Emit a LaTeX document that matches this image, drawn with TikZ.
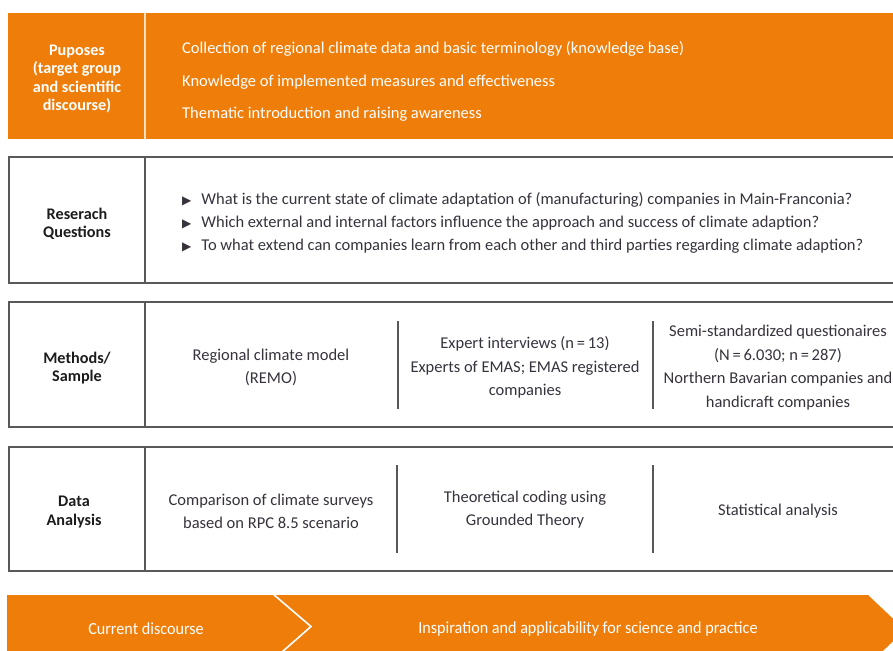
\documentclass[tikz,border=0pt]{standalone}
\usepackage{fontspec}
\setmainfont{Carlito}
\newfontfamily\dejavu{DejaVu Sans}
\newfontfamily\condfont[FakeStretch=0.95]{Carlito}
\definecolor{orng}{RGB}{239,125,10}
\definecolor{txt}{RGB}{55,50,60}
\definecolor{hdr}{RGB}{28,28,28}
\definecolor{bord}{RGB}{88,88,88}
\tikzset{
  rowbox/.style={draw=bord, line width=1.4pt, fill=white},
  sep/.style={draw=bord, line width=1.3pt},
  hdrtext/.style={font=\bfseries\fontsize{16.2}{18.5}\selectfont, text=hdr, align=center, inner sep=0pt, yshift=-2pt},
  bodytext/.style={font=\fontsize{16.5}{23.5}\selectfont, text=txt, align=center, inner sep=0pt, yshift=-1.5pt},
  whitetext/.style={font=\fontsize{16.5}{18}\selectfont, text=white, anchor=west, inner sep=0pt, yshift=-2pt},
  chevtext/.style={font=\condfont\fontsize{17}{18}\selectfont, text=white, inner sep=0pt, yshift=-1pt}
}
\newcommand{\tri}{{\dejavu\fontsize{12}{12}\selectfont ▶}\hspace{10pt}}
\begin{document}
\begin{tikzpicture}[x=1pt,y=-1pt]
\useasboundingbox (0,0) rectangle (893,650);
\clip (0,0) rectangle (893,650);

% Row 1: purposes
\fill[orng] (8,13) rectangle (905,139);
\draw[white!75!orng, line width=1.2pt] (145,13) -- (145,139);
\node[hdrtext, text=white] (pur) at (77,77) {Puposes\\(target group\\and scientific\\discourse)};
\node[whitetext] (p1) at (182,47) {Collection of regional climate data and basic terminology (knowledge base)};
\node[whitetext] (p2) at (182,80) {Knowledge of implemented measures and effectiveness};
\node[whitetext] (p3) at (182,112) {Thematic introduction and raising awareness};

% Row 2: research questions
\draw[rowbox] (9,157) rectangle (905,283);
\draw[sep] (145,157) -- (145,283);
\node[hdrtext] (rq) at (77,222) {Reserach\\Questions};
\node[bodytext, anchor=west, align=left, font=\fontsize{16.5}{23}\selectfont] (qs) at (182,221)
 {\tri What is the current state of climate adaptation of (manufacturing) companies in Main-Franconia?\\
  \tri Which external and internal factors influence the approach and success of climate adaption?\\
  \tri To what extend can companies learn from each other and third parties regarding climate adaption?};

% Row 3: methods
\draw[rowbox] (9,302) rectangle (905,427);
\draw[sep] (145,302) -- (145,427);
\draw[sep] (398,321) -- (398,409);
\draw[sep] (653,321) -- (653,409);
\node[hdrtext] (ms) at (77,366) {Methods/\\Sample};
\node[bodytext] (m1) at (271,366) {Regional climate model\\(REMO)};
\node[bodytext] (m2) at (525,366) {Expert interviews (n\,=\,13)\\Experts of EMAS; EMAS registered\\companies};
\node[bodytext] (m3) at (778,366) {Semi-standardized questionaires\\(N\,=\,6.030; n\,=\,287)\\Northern Bavarian companies and\\handicraft companies};

% Row 4: data analysis
\draw[rowbox] (9,447) rectangle (905,571);
\draw[sep] (145,447) -- (145,571);
\draw[sep] (397,465) -- (397,553);
\draw[sep] (653,465) -- (653,553);
\node[hdrtext] (da) at (74,510) {Data\\Analysis};
\node[bodytext] (d1) at (271,510) {Comparison of climate surveys\\based on RPC 8.5 scenario};
\node[bodytext] (d2) at (525,508) {Theoretical coding using\\Grounded Theory};
\node[bodytext] (d3) at (778,510) {Statistical analysis};

% Bottom chevron band
\fill[orng] (7,595) -- (868,595) -- (905,630) -- (868,665) -- (7,665) -- cycle;
\draw[white, line width=1.6pt] (273,594) -- (311,626.5) -- (282,652);
\node[chevtext] (c1) at (146,628) {Current discourse};
\node[chevtext] (c2) at (588,628) {Inspiration and applicability for science and practice};
\end{tikzpicture}
\end{document}
